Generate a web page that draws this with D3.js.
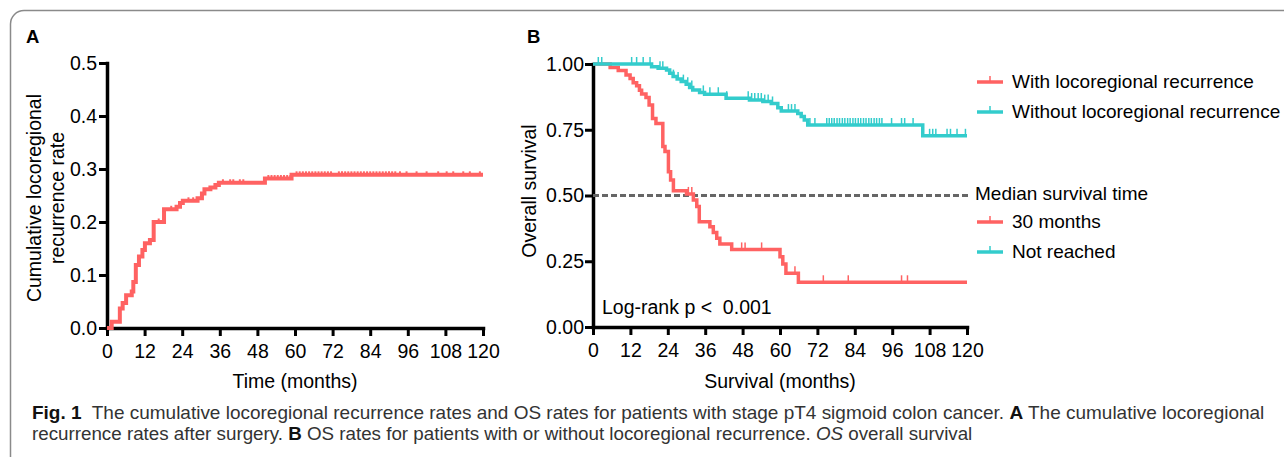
<!DOCTYPE html>
<html>
<head>
<meta charset="utf-8">
<script src="https://cdn.jsdelivr.net/npm/d3@7"></script>
<style>
  body { margin: 0; background: #fff; }
  svg { display: block; }
</style>
</head>
<body>
<svg id="chart" width="1284" height="457"></svg>
<script>
// ---------- DATA ----------
const monthTicks = [0, 12, 24, 36, 48, 60, 72, 84, 96, 108, 120];
const rateTicksA = [0, 0.1, 0.2, 0.3, 0.4, 0.5];
const survTicksB = [0, 0.25, 0.5, 0.75, 1.0];

// Panel A: cumulative locoregional recurrence (step after each event)
const recTime = [0, 1.5, 4.1, 5.0, 6.1, 7.9, 8.4, 9.2, 10.2, 11.3, 12.1, 13.7, 14.9, 18.2, 22.2, 23.3, 24.2, 28.9, 30.3, 31.1, 33.0, 34.6, 35.7, 50.4, 58.9, 120];
const recRate = [0, 0.012, 0.037, 0.047, 0.062, 0.069, 0.087, 0.119, 0.135, 0.147, 0.160, 0.166, 0.200, 0.224, 0.229, 0.236, 0.240, 0.245, 0.254, 0.262, 0.265, 0.270, 0.274, 0.282, 0.289, 0.289];
const recCensor = [16.5, 20.5, 23.0, 26.0, 27.5, 37.0, 39.3, 40.3, 42.4, 43.5, 51.5, 52.5, 53.5, 54.5, 55.5, 56.5, 57.5, 58.5,
  60.5, 61.5, 62.5, 63.5, 64.5, 65.5, 66.5, 67.5, 68.5, 69.5, 70.5, 71.5, 74.0, 75.0, 76.0, 77.0, 78.0, 79.0, 80.0, 81.0,
  82.0, 83.0, 84.0, 85.0, 86.0, 87.0, 88.0, 89.0, 90.0, 91.0, 92.0, 93.5, 95.6, 98.8, 102.0, 105.7, 108.4, 110.5, 113.7, 115.8, 119.0];

// Panel B: overall survival, with locoregional recurrence
const withTime = [0, 5.5, 8.1, 10.6, 11.9, 12.9, 14.0, 14.9, 15.6, 17.0, 18.0, 19.1, 20.2, 22.4, 23.1, 24.2, 24.9, 25.8, 30.0, 32.2, 33.3, 34.1, 37.5, 38.6, 39.7, 40.7, 44.5, 60.0, 60.9, 61.9, 65.9, 120];
const withSurv = [1, 0.987, 0.975, 0.958, 0.945, 0.929, 0.917, 0.900, 0.886, 0.873, 0.844, 0.793, 0.774, 0.686, 0.667, 0.590, 0.559, 0.518, 0.506, 0.483, 0.458, 0.400, 0.381, 0.359, 0.337, 0.316, 0.295, 0.267, 0.240, 0.204, 0.170, 0.170];
const withCensor = [30.6, 31.7, 47.7, 48.8, 54.1, 64.8, 73.9, 81.9, 99.0, 100.9];

// Panel B: overall survival, without locoregional recurrence
const withoutTime = [0, 18.8, 20.9, 23.6, 24.6, 25.7, 27.0, 28.3, 29.9, 31.0, 32.0, 34.2, 35.8, 42.7, 50.2, 54.5, 57.2, 59.3, 60.4, 65.7, 66.8, 67.8, 68.9, 105.8, 120];
const withoutSurv = [1, 0.990, 0.984, 0.977, 0.965, 0.952, 0.943, 0.933, 0.923, 0.911, 0.901, 0.892, 0.885, 0.870, 0.863, 0.857, 0.850, 0.834, 0.821, 0.812, 0.800, 0.787, 0.768, 0.727, 0.727];
const withoutCensor = [1.7, 2.8, 12.4, 14.0, 16.1, 18.3, 21.5, 22.4, 25.8, 27.3, 29.0, 30.4, 31.7, 35.4, 37.5, 40.2, 42.9,
  49.8, 50.9, 51.9, 53.0, 54.0, 55.1, 56.2, 57.6, 62.7, 63.7, 64.8, 69.6, 71.2, 75.0, 75.8, 76.6, 77.4, 78.3, 79.1, 80.0,
  80.8, 81.7, 82.5, 83.4, 84.2, 85.1, 85.9, 86.8, 87.6, 88.5, 89.3, 90.2, 91.0, 91.9, 92.7, 95.8, 99.0, 100.0, 102.7,
  108.0, 109.0, 110.0, 113.6, 114.7, 116.8, 119.5];

const legendLabels = ["With locoregional recurrence", "Without locoregional recurrence"];
const medianLabels = ["Median survival time", "30 months", "Not reached"];
const medianValue = 0.5;

// ---------- STYLE ----------
const RED = "#ff6262";
const TEAL = "#33cccc";
const FONT = "'Liberation Sans', Arial, sans-serif";
const FS = 19.5;
const LFS = 19;

const svg = d3.select("#chart");

// frame
svg.append("path")
  .attr("d", "M10.5,457 V24 A13.5,13.5 0 0 1 24,10.5 H1284")
  .attr("fill", "none").attr("stroke", "#8a8a8a").attr("stroke-width", 1.5);

function stepValue(times, vals, t) {
  let v = vals[0];
  for (let i = 0; i < times.length; i++) { if (times[i] <= t) v = vals[i]; }
  return v;
}

function styleAxis(g) {
  g.attr("font-size", null).attr("font-family", null);
  g.select(".domain").attr("stroke", "#000").attr("stroke-width", 3.5).attr("stroke-linecap", "square");
  g.selectAll(".tick line").attr("stroke", "#000").attr("stroke-width", 3);
  g.selectAll(".tick text").attr("font-family", FONT).attr("font-size", FS).attr("fill", "#000");
}

// ---------- PANEL A ----------
const xA = d3.scaleLinear().domain([0, 120]).range([107, 483]);
const yA = d3.scaleLinear().domain([0, 0.5]).range([328, 63]);

svg.append("g").attr("transform", "translate(0,328)")
  .call(d3.axisBottom(xA).tickValues(monthTicks).tickSize(8).tickSizeOuter(0).tickPadding(8))
  .call(styleAxis);
svg.append("g").attr("transform", "translate(107,0)")
  .call(d3.axisLeft(yA).tickValues(rateTicksA).tickFormat(d3.format(".1f")).tickSize(8).tickSizeOuter(0).tickPadding(2))
  .call(styleAxis);

const lineA = d3.line().x(d => xA(d[0])).y(d => yA(d[1])).curve(d3.curveStepAfter);
svg.append("path").datum(recTime.map((t, i) => [t, recRate[i]]))
  .attr("d", lineA).attr("fill", "none").attr("stroke", RED).attr("stroke-width", 4);
svg.append("g").selectAll("line").data(recCensor).join("line")
  .attr("x1", d => xA(d)).attr("x2", d => xA(d))
  .attr("y1", d => yA(stepValue(recTime, recRate, d)))
  .attr("y2", d => yA(stepValue(recTime, recRate, d)) - 3.5)
  .attr("stroke", RED).attr("stroke-width", 2);

svg.append("text").attr("x", 26).attr("y", 43).text("A")
  .attr("font-family", FONT).attr("font-weight", "bold").attr("font-size", 18.5);
svg.append("text").attr("x", 295).attr("y", 388).attr("text-anchor", "middle").text("Time (months)")
  .attr("font-family", FONT).attr("font-size", FS);
const yTitleA = svg.append("text").attr("transform", "translate(0,198) rotate(-90)")
  .attr("text-anchor", "middle").attr("font-family", FONT).attr("font-size", FS);
yTitleA.append("tspan").attr("x", 0).attr("y", 41).text("Cumulative locoregional");
yTitleA.append("tspan").attr("x", 0).attr("y", 64).text("recurrence rate");

// ---------- PANEL B ----------
const xB = d3.scaleLinear().domain([0, 120]).range([593, 967]);
const yB = d3.scaleLinear().domain([0, 1]).range([327, 64]);

svg.append("g").attr("transform", "translate(0,327)")
  .call(d3.axisBottom(xB).tickValues(monthTicks).tickSize(8).tickSizeOuter(0).tickPadding(8))
  .call(styleAxis);
svg.append("g").attr("transform", "translate(593,0)")
  .call(d3.axisLeft(yB).tickValues(survTicksB).tickFormat(d3.format(".2f")).tickSize(8).tickSizeOuter(0).tickPadding(1))
  .call(styleAxis);

// median line (extends into legend)
svg.append("line").attr("x1", xB(0)).attr("x2", 971).attr("y1", yB(medianValue)).attr("y2", yB(medianValue))
  .attr("stroke", "#666").attr("stroke-width", 3).attr("stroke-dasharray", "6,3");

const lineB = d3.line().x(d => xB(d[0])).y(d => yB(d[1])).curve(d3.curveStepAfter);
const seriesB = [
  { time: withTime, surv: withSurv, cens: withCensor, color: RED },
  { time: withoutTime, surv: withoutSurv, cens: withoutCensor, color: TEAL }
];
seriesB.forEach(s => {
  svg.append("path").datum(s.time.map((t, i) => [t, s.surv[i]]))
    .attr("d", lineB).attr("fill", "none").attr("stroke", s.color).attr("stroke-width", 3.5);
  svg.append("g").selectAll("line").data(s.cens).join("line")
    .attr("x1", d => xB(d)).attr("x2", d => xB(d))
    .attr("y1", d => yB(stepValue(s.time, s.surv, d)))
    .attr("y2", d => yB(stepValue(s.time, s.surv, d)) - 7)
    .attr("stroke", s.color).attr("stroke-width", 1.5);
});

svg.append("text").attr("x", 527).attr("y", 43).text("B")
  .attr("font-family", FONT).attr("font-weight", "bold").attr("font-size", 18.5);
svg.append("text").attr("x", 780).attr("y", 388).attr("text-anchor", "middle").text("Survival (months)")
  .attr("font-family", FONT).attr("font-size", FS);
svg.append("text").attr("transform", "translate(536,191) rotate(-90)").attr("text-anchor", "middle")
  .text("Overall survival").attr("font-family", FONT).attr("font-size", FS);
svg.append("text").attr("x", 602).attr("y", 314).text("Log-rank p <  0.001")
  .attr("font-family", FONT).attr("font-size", FS).style("white-space", "pre");

// legend
function legendItem(y, color, label) {
  svg.append("line").attr("x1", 977).attr("x2", 1003).attr("y1", y).attr("y2", y)
    .attr("stroke", color).attr("stroke-width", 3.5);
  svg.append("line").attr("x1", 990).attr("x2", 990).attr("y1", y).attr("y2", y - 6)
    .attr("stroke", color).attr("stroke-width", 1.5);
  svg.append("text").attr("x", 1012).attr("y", y + 6).text(label)
    .attr("font-family", FONT).attr("font-size", LFS);
}
legendItem(82, RED, legendLabels[0]);
legendItem(112, TEAL, legendLabels[1]);
svg.append("text").attr("x", 975).attr("y", 200).text(medianLabels[0])
  .attr("font-family", FONT).attr("font-size", LFS);
legendItem(222, RED, medianLabels[1]);
legendItem(252, TEAL, medianLabels[2]);

// ---------- CAPTION ----------
const CAPFONT = "'Liberation Sans', Arial, sans-serif";
function captionLine(y, parts, targetWidth) {
  const t = svg.append("text").attr("font-family", CAPFONT).attr("font-size", 18.5).attr("fill", "#333")
    .style("white-space", "pre");
  parts.forEach(p => {
    const ts = t.append("tspan").text(p.t);
    if (p.b) ts.attr("font-weight", "bold").attr("fill", "#111");
    if (p.i) ts.attr("font-style", "italic");
  });
  const w = t.node().getComputedTextLength();
  t.attr("transform", `translate(32,${y}) scale(${targetWidth / w},1)`);
}
captionLine(419, [
  { t: "Fig. 1", b: true },
  { t: "  The cumulative locoregional recurrence rates and OS rates for patients with stage pT4 sigmoid colon cancer. " },
  { t: "A", b: true },
  { t: " The cumulative locoregional" }
], 1233);
captionLine(440, [
  { t: "recurrence rates after surgery. " },
  { t: "B", b: true },
  { t: " OS rates for patients with or without locoregional recurrence. " },
  { t: "OS", i: true },
  { t: " overall survival" }
], 941);
</script>
</body>
</html>
